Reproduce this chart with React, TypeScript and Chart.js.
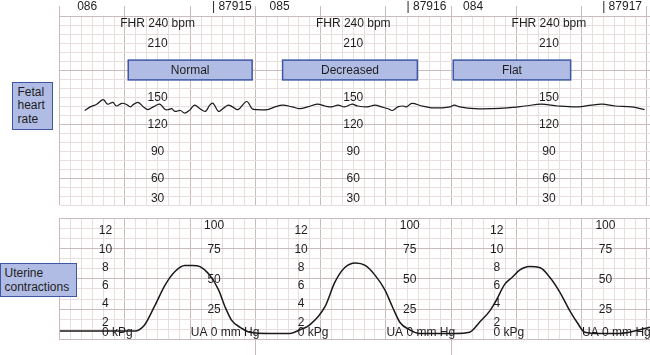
import React, { useEffect, useRef } from "react";
import { Chart, registerables } from "chart.js";

Chart.register(...registerables);

// ---- Data (time in seconds along the strip) ----
const FHR_T = [23, 28, 34, 40, 44, 49, 52, 57, 61, 65, 67, 72, 77, 81, 86, 92, 97, 100, 103, 106, 111, 115, 120, 124, 129, 134, 138, 141, 146, 150, 155, 159, 164, 172, 177, 181, 191, 198, 205, 214, 221, 228, 237, 244, 250, 256, 262, 269, 274, 283, 290, 296, 302, 306, 311, 316, 319, 324, 333, 342, 352, 359, 363, 368, 382, 398, 412, 428, 443, 458, 477, 489, 499, 511, 526, 538];
const FHR_V = [135, 139, 142, 147, 142, 144, 140, 143, 142, 139, 141, 144, 139, 136, 139, 142, 136, 136, 137, 134, 135, 132, 136, 141, 137, 134, 141, 143, 134, 137, 141, 139, 136, 145, 137, 136, 136, 139, 141, 139, 137, 139, 142, 140, 139, 141, 139, 142, 140, 139, 141, 139, 137, 135, 139, 140, 139, 143, 140, 138, 138, 139, 141, 139, 137, 137, 138, 140, 142, 140, 139, 141, 142, 140, 139, 136];

const UC_T = [0, 37, 69, 78, 87, 97, 106, 115, 122, 129, 138, 146, 152, 158, 166, 175, 193, 212, 221, 230, 244, 253, 262, 272, 281, 290, 299, 306, 313, 322, 331, 363, 377, 386, 396, 402, 409, 416, 423, 432, 442, 451, 460, 469, 476, 483, 497, 515, 543];
const UC_V = [7, 7, 7, 12, 27, 45, 56, 61, 61, 60, 53, 41, 27, 16, 10, 6, 5, 5, 8, 12, 27, 47, 59, 63, 61, 53, 41, 27, 14, 8, 5, 5, 6, 14, 24, 33, 45, 51, 57, 60, 59, 51, 39, 24, 14, 6, 5, 5, 10];

// ---- Axes ranges ----
const X_MIN = 0;
const X_MAX = 543;
const FHR_MIN = 30;
const FHR_MAX = 240;
const UA_MIN = 0;
const UA_MAX = 100; // mm Hg
const KPA_TO_MMHG = 7.50062;

// ---- Annotation text ----
const TOP_TEXT = ["086", "| 87915", "085", "| 87916", "084", "| 87917"];
const TOP_T = [16, 140, 193, 319, 371, 499];

const FHR_COLUMN_T = [90, 270, 450];
const FHR_HEADER = "FHR 240 bpm";
const FHR_HEADER_V = 232;
const FHR_LABELS = ["210", "150", "120", "90", "60", "30"];
const FHR_LABEL_V = [210, 150, 120, 90, 60, 30];

const VAR_TEXT = ["Normal", "Decreased", "Flat"];
const VAR_T0 = [63, 205, 362];
const VAR_T1 = [177, 329, 470];
const VAR_LOW = 169;
const VAR_HIGH = 191;

const KPA_COLUMN_T = [42, 222, 402];
const KPA_LABELS = [12, 10, 8, 6, 4, 2, 0];
const MMHG_COLUMN_T = [142, 322, 502];
const MMHG_LABELS = [100, 75, 50, 25, 0];

const STRIP_BREAK_T = [180, 360];

// ---- Grid ----
const X_GRID: number[] = [];
for (let t = 0; t <= 540; t += 10) X_GRID.push(t);
const FHR_GRID: number[] = [];
for (let v = FHR_MIN; v <= FHR_MAX; v += 10) FHR_GRID.push(v);
const UA_GRID: number[] = [];
for (let k = 0; k <= 12; k++) UA_GRID.push((k * 25) / 3);

// ---- Styles ----
const MINOR = "rgb(232,222,222)";
const MAJOR = "rgb(202,188,188)";
const NONE = "rgba(0,0,0,0)";
const TEXT = "#1e1e1e";
const TRACE = "#1a1a1a";
const BOX_FILL = "#b1bce5";
const BOX_BORDER = "#3d57a5";
const FONT = '12px "Liberation Sans", Arial, Helvetica, sans-serif';

const isMajorX = (v: any) => typeof v === "number" && Math.abs(v % 60) < 0.01;
const isMajorFhr = (v: any) => typeof v === "number" && Math.abs(v % 60) < 0.01;
const isMajorUa = (v: any) =>
  typeof v === "number" && Math.round((v * 3) / 25) % 3 === 0;

const upperLabels = {
  id: "upperLabels",
  beforeDatasetsDraw(chart: any) {
    const { ctx, chartArea } = chart;
    const x = chart.scales.x;
    const y = chart.scales.y;
    ctx.save();
    ctx.font = FONT;
    ctx.fillStyle = TEXT;
    ctx.textBaseline = "middle";
    ctx.textAlign = "left";
    TOP_TEXT.forEach((s, i) => ctx.fillText(s, x.getPixelForValue(TOP_T[i]), 7));
    ctx.textAlign = "center";
    FHR_COLUMN_T.forEach((t) => {
      const cx = x.getPixelForValue(t);
      ctx.fillText(FHR_HEADER, cx, y.getPixelForValue(FHR_HEADER_V));
      FHR_LABEL_V.forEach((v, i) => {
        let py = y.getPixelForValue(v) + 1;
        py = Math.min(py, chartArea.bottom - 6);
        ctx.fillText(FHR_LABELS[i], cx, py);
      });
    });
    VAR_TEXT.forEach((s, i) => {
      const x0 = x.getPixelForValue(VAR_T0[i]);
      const x1 = x.getPixelForValue(VAR_T1[i]);
      const y0 = y.getPixelForValue(VAR_HIGH);
      const y1 = y.getPixelForValue(VAR_LOW);
      ctx.fillStyle = BOX_FILL;
      ctx.fillRect(x0, y0, x1 - x0, y1 - y0);
      ctx.strokeStyle = BOX_BORDER;
      ctx.lineWidth = 1.5;
      ctx.strokeRect(x0, y0, x1 - x0, y1 - y0);
      ctx.fillStyle = TEXT;
      ctx.fillText(s, (x0 + x1) / 2, (y0 + y1) / 2 + 0.5);
    });
    ctx.restore();
  },
};

const lowerLabels = {
  id: "lowerLabels",
  beforeDatasetsDraw(chart: any) {
    const { ctx, chartArea } = chart;
    const x = chart.scales.x;
    const y = chart.scales.y;
    const clampY = (py: number) =>
      Math.max(chartArea.top + 8, Math.min(chartArea.bottom - 6.5, py));
    ctx.save();
    ctx.font = FONT;
    ctx.fillStyle = TEXT;
    ctx.textBaseline = "middle";
    const w0 = ctx.measureText("0").width;
    KPA_COLUMN_T.forEach((t) => {
      const cx = x.getPixelForValue(t);
      KPA_LABELS.forEach((k) => {
        const py = clampY(y.getPixelForValue(k * KPA_TO_MMHG) + 1);
        if (k === 0) {
          ctx.textAlign = "left";
          ctx.fillText("0 kPg", cx - w0 / 2, py);
        } else {
          ctx.textAlign = "center";
          ctx.fillText(String(k), cx, py);
        }
      });
    });
    const wUA = ctx.measureText("UA ").width;
    MMHG_COLUMN_T.forEach((t) => {
      const cx = x.getPixelForValue(t);
      MMHG_LABELS.forEach((m) => {
        const py = clampY(y.getPixelForValue(m) + 1);
        if (m === 0) {
          ctx.textAlign = "left";
          ctx.fillText("UA 0 mm Hg", cx - wUA - w0 / 2, py);
        } else {
          ctx.textAlign = "center";
          ctx.fillText(String(m), cx, py);
        }
      });
    });
    ctx.restore();
  },
};

function makeXScale(position: string, height: number, tickLength: number, tickColor: (v: any) => string) {
  return {
    type: "linear",
    position,
    min: X_MIN,
    max: X_MAX,
    afterBuildTicks: (s: any) => {
      s.ticks = X_GRID.map((v) => ({ value: v }));
    },
    afterFit: (s: any) => {
      s.height = height;
    },
    ticks: { display: false },
    border: { display: false },
    grid: {
      color: (c: any) => (isMajorX(c.tick && c.tick.value) ? MAJOR : MINOR),
      lineWidth: 1,
      drawTicks: true,
      tickLength,
      tickColor: (c: any) => tickColor(c.tick && c.tick.value),
    },
  };
}

export default function App() {
  const upperRef = useRef<HTMLCanvasElement | null>(null);
  const lowerRef = useRef<HTMLCanvasElement | null>(null);

  useEffect(() => {
    const upper = new Chart(upperRef.current as HTMLCanvasElement, {
      type: "line",
      data: {
        datasets: [
          {
            data: FHR_T.map((t, i) => ({ x: t, y: FHR_V[i] })),
            borderColor: TRACE,
            borderWidth: 1.2,
            pointRadius: 0,
            tension: 0.35,
            fill: false,
          },
        ],
      },
      options: {
        responsive: false,
        animation: false,
        events: [],
        layout: { padding: { top: 0, bottom: 5, left: 0, right: 0 } },
        plugins: { legend: { display: false }, tooltip: { enabled: false } },
        scales: {
          x: makeXScale("top", 16, 10, (v) => (isMajorX(v) ? MAJOR : NONE)) as any,
          y: {
            type: "linear",
            min: FHR_MIN,
            max: FHR_MAX,
            afterBuildTicks: (s: any) => {
              s.ticks = FHR_GRID.map((v) => ({ value: v }));
            },
            afterFit: (s: any) => {
              s.width = 59.75;
            },
            ticks: { display: false },
            border: { display: false },
            grid: {
              color: (c: any) => (isMajorFhr(c.tick && c.tick.value) ? MAJOR : MINOR),
              lineWidth: 1,
              drawTicks: false,
            },
          },
        },
      } as any,
      plugins: [upperLabels],
    });

    const lower = new Chart(lowerRef.current as HTMLCanvasElement, {
      type: "line",
      data: {
        datasets: [
          {
            data: UC_T.map((t, i) => ({ x: t, y: UC_V[i] })),
            borderColor: TRACE,
            borderWidth: 1.5,
            pointRadius: 0,
            cubicInterpolationMode: "monotone",
            fill: false,
          },
        ],
      },
      options: {
        responsive: false,
        animation: false,
        events: [],
        layout: { padding: { top: 8, bottom: 0, left: 0, right: 0 } },
        plugins: { legend: { display: false }, tooltip: { enabled: false } },
        scales: {
          x: makeXScale("bottom", 15.5, 15.5, (v) =>
            STRIP_BREAK_T.indexOf(v) >= 0 ? MAJOR : NONE
          ) as any,
          y: {
            type: "linear",
            min: UA_MIN,
            max: UA_MAX,
            afterBuildTicks: (s: any) => {
              s.ticks = UA_GRID.map((v) => ({ value: v }));
            },
            afterFit: (s: any) => {
              s.width = 59.75;
            },
            ticks: { display: false },
            border: { display: false },
            grid: {
              color: (c: any) => (isMajorUa(c.tick && c.tick.value) ? MAJOR : MINOR),
              lineWidth: 1,
              drawTicks: false,
            },
          },
        },
      } as any,
      plugins: [lowerLabels],
    });

    return () => {
      upper.destroy();
      lower.destroy();
    };
  }, []);

  const boxStyle: React.CSSProperties = {
    position: "absolute",
    boxSizing: "border-box",
    background: BOX_FILL,
    border: `1.5px solid ${BOX_BORDER}`,
    color: TEXT,
    font: FONT,
    zIndex: 2,
  };

  return (
    <div
      style={{
        position: "fixed",
        left: 0,
        top: 0,
        width: 650,
        height: 355,
        background: "#fff",
        overflow: "hidden",
      }}
    >
      <canvas
        ref={upperRef}
        width={650}
        height={210}
        style={{ position: "absolute", left: 0, top: 0, width: 650, height: 210 }}
      />
      <canvas
        ref={lowerRef}
        width={650}
        height={145}
        style={{ position: "absolute", left: 0, top: 210, width: 650, height: 145 }}
      />
      <div
        style={{
          ...boxStyle,
          left: 12,
          top: 82,
          width: 41,
          height: 48,
          paddingLeft: 4.5,
          paddingTop: 3,
          lineHeight: "13.3px",
        }}
      >
        Fetal
        <br />
        heart
        <br />
        rate
      </div>
      <div
        style={{
          ...boxStyle,
          left: 0,
          top: 263,
          width: 77,
          height: 34,
          paddingLeft: 3.5,
          paddingTop: 1.5,
          lineHeight: "14px",
        }}
      >
        Uterine
        <br />
        contractions
      </div>
    </div>
  );
}
